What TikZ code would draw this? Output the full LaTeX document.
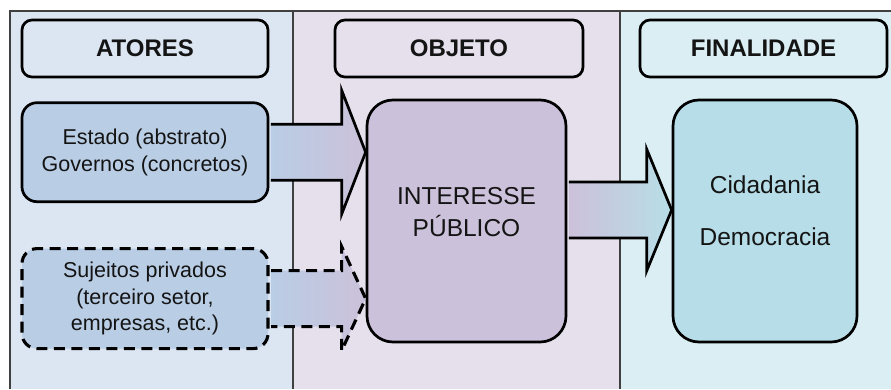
\documentclass[tikz,border=0pt]{standalone}
\usepackage{fontspec}
\setmainfont{Liberation Sans}
\usepackage{tikz}
\usetikzlibrary{positioning, calc}
\definecolor{panelblue}{HTML}{DCE6F2}
\definecolor{panelpurple}{HTML}{E5E0EC}
\definecolor{panelcyan}{HTML}{DBEEF4}
\definecolor{actorblue}{HTML}{B9CDE5}
\definecolor{objpurple}{HTML}{CCC1DA}
\definecolor{goalcyan}{HTML}{B7DEE8}
\definecolor{framegray}{HTML}{404040}
\definecolor{inkgray}{HTML}{141414}

\begin{document}
\begin{tikzpicture}[x=1pt, y=-1pt,
    header/.style={draw=black, line width=2.7pt, rounded corners=10pt,
      minimum height=57pt, text=inkgray, font=\fontsize{24}{28}\selectfont\bfseries},
    actorbox/.style={draw=black, line width=2.7pt, rounded corners=15pt, fill=actorblue,
      minimum width=246pt, minimum height=99pt, align=center, text=inkgray,
      font=\fontsize{21.5}{26.5}\selectfont},
    dashedline/.style={line width=3.1pt, dash pattern=on 11pt off 6.5pt},
    bigbox/.style={draw=black, line width=2.7pt, rounded corners=26pt, minimum height=242pt},
    bigtext/.style={align=center, text=inkgray, font=\fontsize{24.5}{29}\selectfont},
    blockarrow/.style={draw=black, line width=2.7pt, line join=miter}]
  \useasboundingbox (0,0) rectangle (891,389);

  % the three columns
  \fill[panelblue] (10,11) rectangle (293,389);
  \fill[panelpurple] (293,11) rectangle (620,389);
  \fill[panelcyan] (620,11) rectangle (891,389);
  \draw[framegray, line width=1.3pt] (10,389) -- (10,11) -- (891,11);
  \draw[framegray, line width=1.3pt] (293,11) -- (293,389) (620,11) -- (620,389);

  % column titles
  \node[header, minimum width=246pt] (atores) at (145,48.5) {ATORES};
  \node[header, minimum width=248pt] (objeto) at (459,48.5) {OBJETO};
  \node[header, minimum width=247pt] (finalidade) at (763.5,48.5) {FINALIDADE};

  % actors
  \node[actorbox, below=23pt of atores] (estado) {Estado (abstrato)\\Governos (concretos)};
  \node[actorbox, dashedline, minimum height=100pt,
        below=44pt of estado] (sujeitos) {Sujeitos privados\\(terceiro setor,\\empresas, etc.)};

  % object and goal
  \node[bigbox, fill=objpurple, minimum width=199pt] (interesse) at (466.5,221) {};
  \node[bigtext] (interessetxt) at ($(interesse.center)+(0,-9)$) {INTERESSE\\[3pt]PÚBLICO};
  \node[bigbox, fill=goalcyan, minimum width=184pt] (cidadania) at (765,221) {};
  \node[bigtext] (cidadaniatxt) at ($(cidadania.center)+(0,-10)$) {Cidadania\\[23pt]Democracia};

  % arrows
  \draw[blockarrow, left color=actorblue, right color=objpurple]
    ($(estado.east)+(1.4,-28)$) -- ($(interesse.west |- estado.east)+(-24,-28)$)
    -- ++(0,-34) -- (interesse.west |- estado.east) -- ++(-24,62) -- ++(0,-34)
    -- ($(estado.east)+(1.4,28)$);
  \draw[blockarrow, dashedline, left color=actorblue, right color=objpurple]
    ($(sujeitos.east)+(1.5,-28)$) -- ($(interesse.west |- sujeitos.east)+(-24,-28)$)
    -- ++(0,-24) -- (interesse.west |- sujeitos.east) -- ++(-24,52) -- ++(0,-24)
    -- ($(sujeitos.east)+(1.5,28)$);
  \coordinate (goalmid) at ($(interesse.east)+(0,-11)$);
  \draw[blockarrow, left color=objpurple, right color=goalcyan]
    ($(goalmid)+(1.4,-28)$) -- ($(cidadania.west |- goalmid)+(-25,-28)$)
    -- ++(0,-33) -- (cidadania.west |- goalmid) -- ++(-25,61) -- ++(0,-33)
    -- ($(goalmid)+(1.4,28)$);
\end{tikzpicture}
\end{document}
